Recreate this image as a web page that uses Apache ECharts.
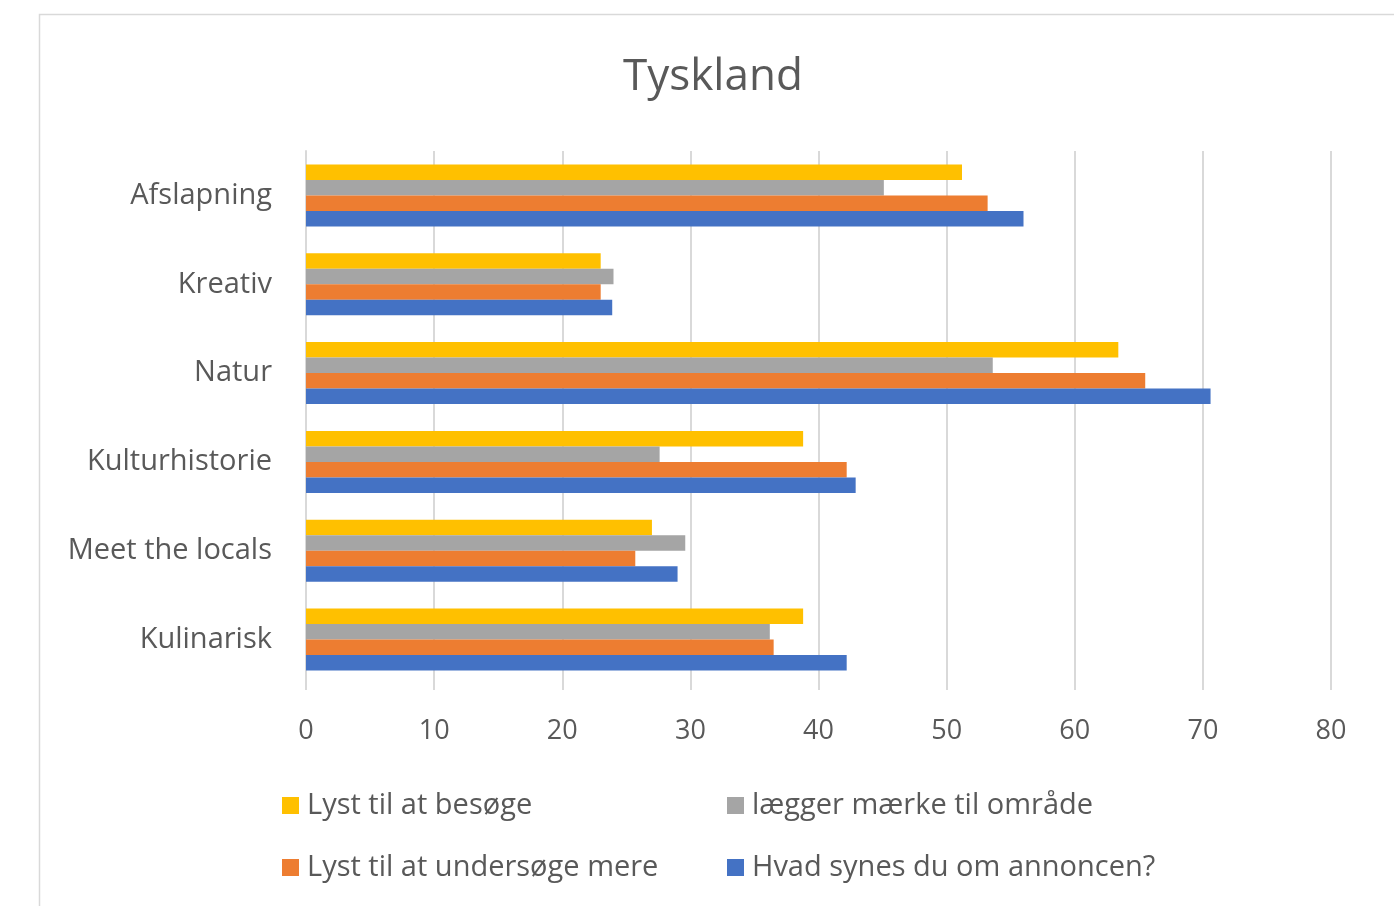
<!DOCTYPE html>
<html>
<head>
<meta charset="utf-8">
<script src="https://cdn.jsdelivr.net/npm/echarts@6/dist/echarts.min.js"></script>
<style>html,body{margin:0;padding:0;background:#fff}#c{width:1394px;height:906px}</style>
</head>
<body>
<div id="c"></div>
<script>
const categories = ['Afslapning', 'Kreativ', 'Natur', 'Kulturhistorie', 'Meet the locals', 'Kulinarisk'];
const lystBesoege = [51.2, 23.0, 63.4, 38.8, 27.0, 38.8];
const laeggerMaerke = [45.1, 24.0, 53.6, 27.6, 29.6, 36.2];
const lystUndersoege = [53.2, 23.0, 65.5, 42.2, 25.7, 36.5];
const hvadSynes = [56.0, 23.9, 70.6, 42.9, 29.0, 42.2];
const xTicks = [0, 10, 20, 30, 40, 50, 60, 70, 80];

const names = ['Lyst til at besøge', 'lægger mærke til område', 'Lyst til at undersøge mere', 'Hvad synes du om annoncen?'];
const colors = ['#FFC000', '#A5A5A5', '#ED7D31', '#4472C4'];
const datas = [lystBesoege, laeggerMaerke, lystUndersoege, hvadSynes];
const font = '"Open Sans", sans-serif';

const chart = echarts.init(document.getElementById('c'));
const legendPos = [[277, 786], [722, 786], [277, 848], [722, 848]];
chart.setOption({
  animation: false,
  graphic: [{type: 'rect', shape: {x: 39.5, y: 14.5, width: 1400, height: 950}, style: {fill: 'none', stroke: '#d9d9d9', lineWidth: 1.5}, silent: true}],
  title: {text: 'Tyskland', left: 618, top: 50, textStyle: {fontFamily: font, fontSize: 44, fontWeight: 'normal', color: '#595959'}},
  legend: names.map((n, i) => ({
    data: [n], left: legendPos[i][0], top: legendPos[i][1], itemWidth: 17, itemHeight: 17, itemGap: 0,
    icon: 'rect', textStyle: {fontFamily: font, fontSize: 29, color: '#595959', padding: [0, 0, 0, 3]}
  })),
  grid: {left: 306, right: 63, top: 151, bottom: 222, containLabel: false},
  xAxis: {
    type: 'value', min: 0, max: 80, interval: 10,
    axisLine: {show: false},
    axisTick: {show: true, length: 6, lineStyle: {color: '#d9d9d9', width: 2}},
    splitLine: {lineStyle: {color: '#d9d9d9', width: 2}},
    axisLabel: {fontFamily: font, fontSize: 27, color: '#595959', margin: 34,
      formatter: v => xTicks.includes(v) ? String(v) : ''}
  },
  yAxis: {
    type: 'category', data: categories, inverse: true,
    axisLine: {show: true, lineStyle: {color: '#d9d9d9', width: 2}},
    axisTick: {show: false},
    axisLabel: {fontFamily: font, fontSize: 29, color: '#595959', margin: 34}
  },
  series: names.map((n, i) => ({
    name: n, type: 'bar', data: datas[i], barWidth: 15.5, barGap: '0%',
    itemStyle: {color: colors[i]}
  }))
});
</script>
</body>
</html>
